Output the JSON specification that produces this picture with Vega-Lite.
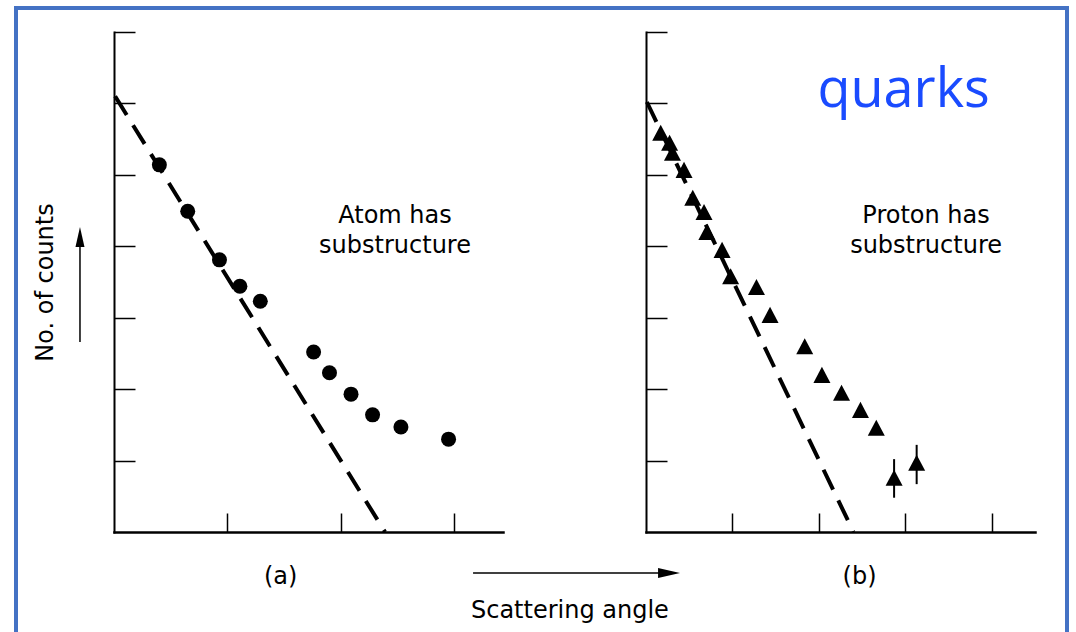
{
  "$schema": "https://vega.github.io/schema/vega-lite/v6.json",
  "width": 1051,
  "height": 640,
  "autosize": {"type": "none"},
  "padding": {"left": 16, "top": 8, "right": 9, "bottom": 0},
  "background": "white",
  "config": {
    "view": {"stroke": "#4472C4", "strokeWidth": 4},
    "font": "DejaVu Sans",
    "axis": {"grid": false, "labels": false, "domainColor": "black", "tickColor": "black", "titleColor": "black", "titleFont": "DejaVu Sans", "titleFontWeight": "normal", "minExtent": 0, "domainCap": "square"}
  },
  "datasets": {
    "atom": [
      {"angle": 0.40, "counts": 5.14}, {"angle": 0.65, "counts": 4.49}, {"angle": 0.93, "counts": 3.81},
      {"angle": 1.11, "counts": 3.44}, {"angle": 1.29, "counts": 3.23}, {"angle": 1.76, "counts": 2.52},
      {"angle": 1.90, "counts": 2.23}, {"angle": 2.09, "counts": 1.93}, {"angle": 2.28, "counts": 1.64},
      {"angle": 2.53, "counts": 1.47}, {"angle": 2.95, "counts": 1.30}
    ],
    "atomFit": [{"angle": 0.01, "counts": 6.10}, {"angle": 2.39, "counts": 0}],
    "proton": [
      {"angle": 0.170, "counts": 5.59}, {"angle": 0.273, "counts": 5.45}, {"angle": 0.306, "counts": 5.31},
      {"angle": 0.440, "counts": 5.07}, {"angle": 0.541, "counts": 4.68}, {"angle": 0.671, "counts": 4.48},
      {"angle": 0.704, "counts": 4.20}, {"angle": 0.880, "counts": 3.95}, {"angle": 0.979, "counts": 3.58},
      {"angle": 1.278, "counts": 3.43}, {"angle": 1.435, "counts": 3.04}, {"angle": 1.836, "counts": 2.60},
      {"angle": 2.035, "counts": 2.20}, {"angle": 2.262, "counts": 1.95}, {"angle": 2.481, "counts": 1.71},
      {"angle": 2.664, "counts": 1.46}, {"angle": 2.870, "counts": 0.76, "lo": 0.48, "hi": 1.02},
      {"angle": 3.131, "counts": 0.97, "lo": 0.67, "hi": 1.22}
    ],
    "protonFit": [{"angle": 0.01, "counts": 6.02}, {"angle": 2.40, "counts": 0}],
    "note": [{"note": "annotation"}]
  },
  "layer": [
    {
      "layer": [
        {"data": {"name": "atom"},
          "mark": {"type": "point", "shape": "circle", "filled": true, "size": 225, "color": "black", "opacity": 1},
          "encoding": {
            "x": {"field": "angle", "type": "quantitative",
              "scale": {"domain": [0, 3.43], "range": [98, 487], "nice": false, "zero": false},
              "axis": {"title": null, "orient": "bottom", "values": [1, 2, 3], "tickSize": -19, "tickWidth": 1.5, "domainWidth": 2.5, "offset": -116}},
            "y": {"field": "counts", "type": "quantitative",
              "scale": {"domain": [0, 7], "range": [524, 24], "nice": false, "zero": false},
              "axis": {"title": "No. of counts", "orient": "left", "titleFontSize": 24, "titlePadding": 56, "values": [1, 2, 3, 4, 5, 6, 7], "tickSize": -21, "tickWidth": 1.5, "domainWidth": 2, "offset": -98}}
          }},
        {"data": {"name": "atomFit"}, "mark": {"type": "line", "color": "black", "strokeWidth": 4, "strokeDash": [22, 12]},
          "encoding": {"x": {"field": "angle", "type": "quantitative"}, "y": {"field": "counts", "type": "quantitative"}}},
        {"data": {"name": "note"}, "mark": {"type": "text", "text": ["Atom has", "substructure"], "font": "DejaVu Sans", "fontSize": 24, "lineHeight": 30, "align": "center", "baseline": "alphabetic", "color": "black"},
          "encoding": {"x": {"datum": 2.478}, "y": {"datum": 4.322}}},
        {"data": {"name": "note"}, "mark": {"type": "text", "text": "(a)", "font": "DejaVu Sans", "fontSize": 24, "align": "center", "baseline": "alphabetic", "color": "black"},
          "encoding": {"x": {"datum": 1.47}, "y": {"datum": -0.728}}},
        {"data": {"name": "note"}, "mark": {"type": "text", "text": "Scattering angle", "font": "DejaVu Sans", "fontSize": 24, "align": "center", "baseline": "alphabetic", "color": "black"},
          "encoding": {"x": {"datum": 4.02}, "y": {"datum": -1.204}}},
        {"data": {"name": "note"}, "mark": {"type": "rule", "color": "black", "strokeWidth": 1.5},
          "encoding": {"x": {"datum": 3.166}, "x2": {"datum": 4.82}, "y": {"datum": -0.574}}},
        {"data": {"name": "note"}, "mark": {"type": "point", "shape": "M1,0L-1,0.45L-1,-0.45Z", "filled": true, "size": 484, "color": "black", "opacity": 1},
          "encoding": {"x": {"datum": 4.894}, "y": {"datum": -0.574}}},
        {"data": {"name": "note"}, "mark": {"type": "rule", "color": "black", "strokeWidth": 1.5},
          "encoding": {"x": {"datum": -0.30}, "y": {"datum": 2.66}, "y2": {"datum": 4.05}}},
        {"data": {"name": "note"}, "mark": {"type": "point", "shape": "M0,-1L0.45,1L-0.45,1Z", "filled": true, "size": 400, "color": "black", "opacity": 1},
          "encoding": {"x": {"datum": -0.30}, "y": {"datum": 4.13}}}
      ]
    },
    {
      "layer": [
        {"data": {"name": "proton"},
          "mark": {"type": "point", "shape": "M0,-0.95L1,0.95L-1,0.95Z", "filled": true, "size": 289, "color": "black", "opacity": 1},
          "encoding": {
            "x": {"field": "angle", "type": "quantitative",
              "scale": {"domain": [0, 4.5], "range": [630, 1019], "nice": false, "zero": false},
              "axis": {"title": null, "orient": "bottom", "values": [1, 2, 3, 4], "tickSize": -19, "tickWidth": 1.5, "domainWidth": 2.5, "offset": -116}},
            "y": {"field": "counts", "type": "quantitative",
              "scale": {"domain": [0, 7], "range": [524, 24], "nice": false, "zero": false},
              "axis": {"title": null, "orient": "left", "values": [1, 2, 3, 4, 5, 6, 7], "tickSize": -21, "tickWidth": 1.5, "domainWidth": 2, "offset": -630}}
          }},
        {"data": {"name": "protonFit"}, "mark": {"type": "line", "color": "black", "strokeWidth": 4, "strokeDash": [22, 12]},
          "encoding": {"x": {"field": "angle", "type": "quantitative"}, "y": {"field": "counts", "type": "quantitative"}}},
        {"data": {"name": "proton"}, "transform": [{"filter": "isValid(datum.lo)"}], "mark": {"type": "rule", "color": "black", "strokeWidth": 2},
          "encoding": {"x": {"field": "angle", "type": "quantitative"}, "y": {"field": "lo", "type": "quantitative"}, "y2": {"field": "hi"}}},
        {"data": {"name": "note"}, "mark": {"type": "text", "text": ["Proton has", "substructure"], "font": "DejaVu Sans", "fontSize": 24, "lineHeight": 30, "align": "center", "baseline": "alphabetic", "color": "black"},
          "encoding": {"x": {"datum": 3.24}, "y": {"datum": 4.322}}},
        {"data": {"name": "note"}, "mark": {"type": "text", "text": "(b)", "font": "DejaVu Sans", "fontSize": 24, "align": "center", "baseline": "alphabetic", "color": "black"},
          "encoding": {"x": {"datum": 2.47}, "y": {"datum": -0.728}}},
        {"data": {"name": "note"}, "mark": {"type": "text", "text": "quarks", "font": "Open Sans", "fontSize": 54, "align": "center", "baseline": "alphabetic", "color": "#1A4BFF"},
          "encoding": {"x": {"datum": 2.98}, "y": {"datum": 5.95}}}
      ]
    }
  ],
  "resolve": {"scale": {"x": "independent", "y": "independent"}, "axis": {"x": "independent", "y": "independent"}}
}
